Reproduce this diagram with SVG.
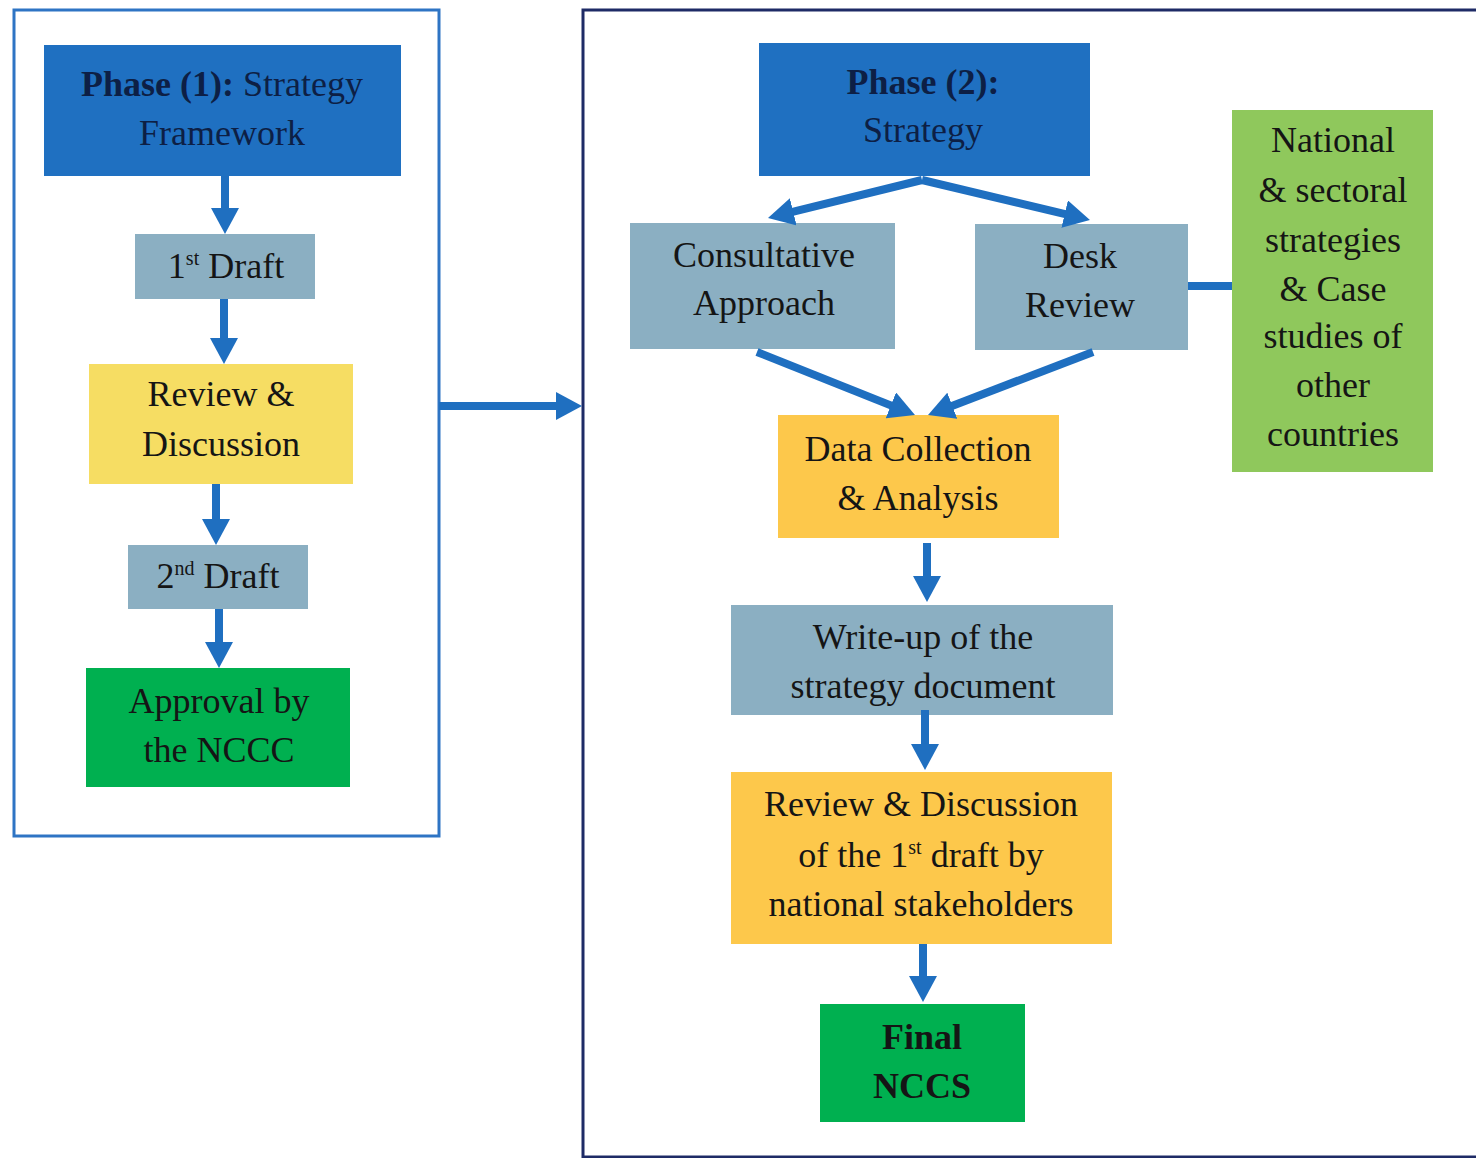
<svg xmlns="http://www.w3.org/2000/svg" width="1476" height="1158" viewBox="0 0 1476 1158">
<style>
text{font-family:"Liberation Serif","Times New Roman",serif;font-size:36px;fill:#151515;text-anchor:middle}
.dk{fill:#0d1f45}
.b{font-weight:bold}
.blue{fill:#1F70C1}
.grey{fill:#8BAFC2}
.yel{fill:#F6DD63}
.org{fill:#FDC84B}
.grn{fill:#00B050}
.lgrn{fill:#8FC85C}
.arr{stroke:#1F6FC0;stroke-width:8;fill:none;marker-end:url(#ah)}
</style>
<defs>
<marker id="ah" markerUnits="userSpaceOnUse" markerWidth="26" markerHeight="28" viewBox="0 0 26 28" refX="6" refY="14" orient="auto">
<path d="M0,0 L26,14 L0,28 z" fill="#1F6FC0"/>
</marker>
</defs>
<rect width="1476" height="1158" fill="#ffffff"/>
<g id="frame1"><rect x="14" y="10" width="425" height="826" fill="none" stroke="#2E74C4" stroke-width="3"/></g>
<g id="frame2"><rect x="583" y="10" width="900" height="1147" fill="none" stroke="#1E2B66" stroke-width="3"/></g>

<g id="phase1"><rect class="blue" x="44" y="45" width="357" height="131"/>
<text class="dk" x="222" y="96"><tspan class="b">Phase (1):</tspan> Strategy</text>
<text class="dk" x="222" y="145">Framework</text></g>
<g id="draft1"><rect class="grey" x="135" y="234" width="180" height="65"/>
<text x="226" y="278">1<tspan font-size="20" dy="-13">st</tspan><tspan dy="13"> Draft</tspan></text></g>
<g id="review1"><rect class="yel" x="89" y="364" width="264" height="120"/>
<text x="221" y="406">Review &amp;</text><text x="221" y="456">Discussion</text></g>
<g id="draft2"><rect class="grey" x="128" y="545" width="180" height="64"/>
<text x="218" y="588">2<tspan font-size="20" dy="-13">nd</tspan><tspan dy="13"> Draft</tspan></text></g>
<g id="approval"><rect class="grn" x="86" y="668" width="264" height="119"/>
<text x="219" y="713">Approval by</text><text x="219" y="762">the NCCC</text></g>

<g id="phase2"><rect class="blue" x="759" y="43" width="331" height="133"/>
<text class="dk" x="923" y="94"><tspan class="b">Phase (2):</tspan></text>
<text class="dk" x="923" y="142">Strategy</text></g>
<g id="consult"><rect class="grey" x="630" y="223" width="265" height="126"/>
<text x="764" y="267">Consultative</text><text x="764" y="315">Approach</text></g>
<g id="desk"><rect class="grey" x="975" y="224" width="213" height="126"/>
<text x="1080" y="268">Desk</text><text x="1080" y="317">Review</text></g>
<g id="national"><rect class="lgrn" x="1232" y="110" width="201" height="362"/>
<text x="1333" y="152">National</text><text x="1333" y="202">&amp; sectoral</text>
<text x="1333" y="252">strategies</text><text x="1333" y="301">&amp; Case</text>
<text x="1333" y="348">studies of</text><text x="1333" y="397">other</text>
<text x="1333" y="446">countries</text></g>
<g id="data"><rect class="org" x="778" y="415" width="281" height="123"/>
<text x="918" y="461">Data Collection</text><text x="918" y="510">&amp; Analysis</text></g>
<g id="writeup"><rect class="grey" x="731" y="605" width="382" height="110"/>
<text x="923" y="649">Write-up of the</text><text x="923" y="698">strategy document</text></g>
<g id="review2"><rect class="org" x="731" y="772" width="381" height="172"/>
<text x="921" y="816">Review &amp; Discussion</text>
<text x="921" y="867">of the 1<tspan font-size="20" dy="-13">st</tspan><tspan dy="13"> draft by</tspan></text>
<text x="921" y="916">national stakeholders</text></g>
<g id="final"><rect class="grn" x="820" y="1004" width="205" height="118"/>
<text class="b" x="922" y="1049">Final</text><text class="b" x="922" y="1098">NCCS</text></g>

<g id="connectors">
<line class="arr" x1="225" y1="176" x2="225" y2="214"/>
<line class="arr" x1="224" y1="299" x2="224" y2="344"/>
<line class="arr" x1="216" y1="484" x2="216" y2="525"/>
<line class="arr" x1="219" y1="609" x2="219" y2="648"/>
<line class="arr" x1="439" y1="406" x2="562" y2="406"/>
<line class="arr" x1="922" y1="180" x2="787.4" y2="213.2"/>
<line class="arr" x1="922" y1="180" x2="1070.5" y2="215.4"/>
<line class="arr" x1="757" y1="352" x2="896.4" y2="407.6"/>
<line class="arr" x1="1093" y1="352" x2="946.7" y2="407.9"/>
<line class="arr" x1="927" y1="543" x2="927" y2="582"/>
<line class="arr" x1="925" y1="710" x2="925" y2="750"/>
<line class="arr" x1="923" y1="944" x2="923" y2="982"/>
<line x1="1188" y1="286" x2="1232" y2="286" stroke="#1F6FC0" stroke-width="8"/>
</g>
</svg>
